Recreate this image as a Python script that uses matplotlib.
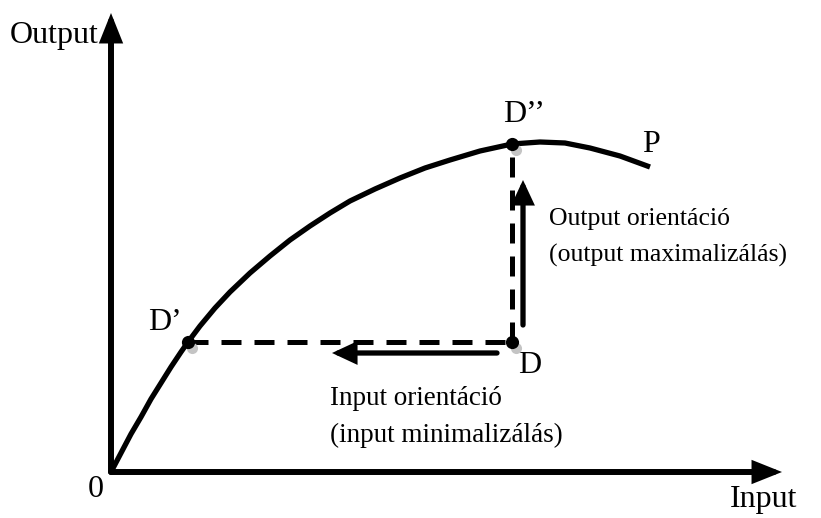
import matplotlib
matplotlib.use("Agg")
import matplotlib.pyplot as plt

# Frontier curve P (input, output)
curve_x = [0, 10, 20, 30, 40, 50, 60, 70, 77, 89, 104, 119, 139, 159, 179,
           199, 219, 239, 264, 289, 314, 339, 369, 401, 429, 454, 479, 509, 539]
curve_y = [0, 19, 38, 55, 73, 89, 105, 120, 130, 146, 164, 180, 199, 216, 232,
           246, 259, 271, 283, 294, 304, 312, 321, 328, 330, 329, 324, 316, 305]

# Points
pt_D = (401, 130)
pt_D1 = (77, 130)     # D'
pt_D2 = (401, 328)    # D''

# Axis extents
x_axis_end = 671
y_axis_end = 459

# Orientation arrows (start, end)
input_arrow = ((386, 119), (221, 119))
output_arrow = ((412, 147), (412, 292))

plt.rcParams['font.family'] = ['Liberation Serif', 'DejaVu Serif']
FS_LAB = 23
FS_IN = 19.5
FS_OUT = 18.5

fig = plt.figure(figsize=(8.21, 5.18), dpi=100)
ax = fig.add_axes([0, 0, 1, 1])
ax.set_xlim(-111, 710)
ax.set_ylim(-46, 472)
ax.axis('off')

def arrow(start, end, lw, hl, hw):
    ax.annotate('', xy=end, xytext=start,
                arrowprops=dict(arrowstyle=f'-|>,head_length={hl},head_width={hw}',
                                lw=lw, color='black', mutation_scale=20,
                                shrinkA=0, shrinkB=0, joinstyle='miter'))

# axes
arrow((0, 0), (x_axis_end, 0), 4.3, 0.7, 0.28)
arrow((0, 0), (0, y_axis_end), 4.3, 0.7, 0.28)

# curve
ax.plot(curve_x, curve_y, color='black', lw=3.8, solid_joinstyle='round',
        solid_capstyle='butt', zorder=3)

# dashed lines
ax.plot([pt_D1[0], pt_D[0]], [pt_D1[1], pt_D[1]], color='black', lw=3.6,
        linestyle=(0, (4, 2.6)), zorder=2)
ax.plot([pt_D[0], pt_D2[0]], [pt_D[1], pt_D2[1]], color='black', lw=3.6,
        linestyle=(0, (4, 2.6)), zorder=2)

# orientation arrows
arrow(input_arrow[0], input_arrow[1], 3.8, 0.6, 0.28)
arrow(output_arrow[0], output_arrow[1], 3.8, 0.6, 0.28)

# points with gray shadow
for (px, py) in [pt_D, pt_D1, pt_D2]:
    ax.plot(px + 4, py - 6, 'o', color='#c4c4c4', ms=8, mec='none', zorder=4)
    ax.plot(px, py, 'o', color='black', ms=9.5, mec='none', zorder=5)

# labels
ax.text(-101, 429, 'Output', fontsize=FS_LAB, ha='left', va='baseline')
ax.text(619, -35, 'Input', fontsize=FS_LAB, ha='left', va='baseline')
ax.text(-15, -25, '0', fontsize=FS_LAB, ha='center', va='baseline')
ax.text(37, 142, 'D\u2019', fontsize=FS_LAB, ha='left', va='baseline')
ax.text(392, 350, 'D\u2019\u2019', fontsize=FS_LAB, ha='left', va='baseline')
ax.text(531, 320, 'P', fontsize=FS_LAB, ha='left', va='baseline')
ax.text(407, 99, 'D', fontsize=FS_LAB, ha='left', va='baseline')
ax.text(219, 67, 'Input orientáció', fontsize=FS_IN, ha='left', va='baseline')
ax.text(219, 30, '(input minimalizálás)', fontsize=FS_IN, ha='left', va='baseline')
ax.text(438, 247, 'Output orientáció', fontsize=FS_OUT, ha='left', va='baseline')
ax.text(438, 210, '(output maximalizálás)', fontsize=FS_OUT, ha='left', va='baseline')

fig.savefig('out.png', dpi=100)
